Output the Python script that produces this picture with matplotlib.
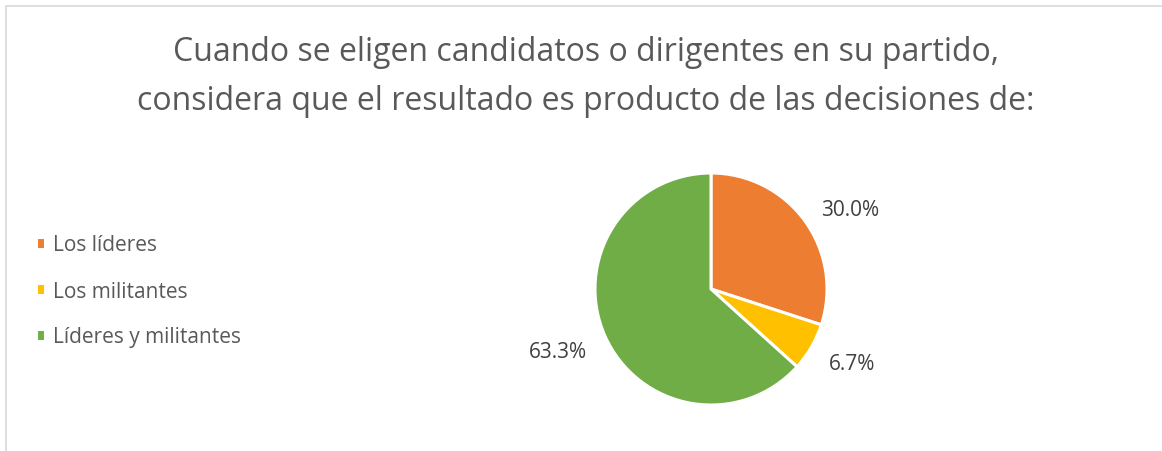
import numpy as np
import matplotlib
matplotlib.use("Agg")
import matplotlib.pyplot as plt
from matplotlib import rcParams
from matplotlib.patches import Rectangle

rcParams.update({
    "font.family": ["Open Sans", "DejaVu Sans"],
})

categories = ["Los líderes", "Los militantes", "Líderes y militantes"]
shares = [30.0, 6.7, 63.3]
colors = ["#ed7d31", "#ffc000", "#70ad47"]
title = ("Cuando se eligen candidatos o dirigentes en su partido,\n"
         "considera que el resultado es producto de las decisiones de:")

W, H = 1162, 452
fig = plt.figure(figsize=(W / 100, H / 100), dpi=100)

# chart frame (only top/left visible in the crop)
fig.patches.append(Rectangle((6 / W, -0.1), 1.2, 1 - 6.5 / H + 0.1,
                             transform=fig.transFigure, fill=False,
                             edgecolor="#d9d9d9", linewidth=1.2))

fig.text(586 / W, 1 - 77 / H, title, ha="center", va="center",
         fontsize=23, color="#595959", linespacing=1.62)

# pie axes, center (711, 290), radius 116 px
r = 116
cx, cy = 711, 290
ax = fig.add_axes([(cx - r) / W, 1 - (cy + r) / H, 2 * r / W, 2 * r / H])
wedges, _ = ax.pie(shares, colors=colors, startangle=90, counterclock=False,
                   wedgeprops=dict(edgecolor="white", linewidth=2.2))
ax.set_xlim(-1, 1)
ax.set_ylim(-1, 1)
ax.set_aspect("equal")
ax.axis("off")

for w, v in zip(wedges, shares):
    mid = np.deg2rad((w.theta1 + w.theta2) / 2)
    x, y = 1.17 * np.cos(mid), 1.17 * np.sin(mid)
    dy = -5 if y < 0 else 0
    ax.annotate(f"{v:.1f}%", (x, y), xytext=(0, dy), textcoords="offset points",
                ha="left" if x > 0 else "right", va="center",
                fontsize=15, color="#404040", annotation_clip=False)

fig.legend(wedges, categories, loc="center left",
           bbox_to_anchor=(17 / W, 1 - 292 / H), frameon=False,
           fontsize=15, labelcolor="#595959", handlelength=0.45,
           handleheight=0.45, handletextpad=0.4, labelspacing=1.2)

fig.savefig("out.png", dpi=100, facecolor="white")
plt.close(fig)
